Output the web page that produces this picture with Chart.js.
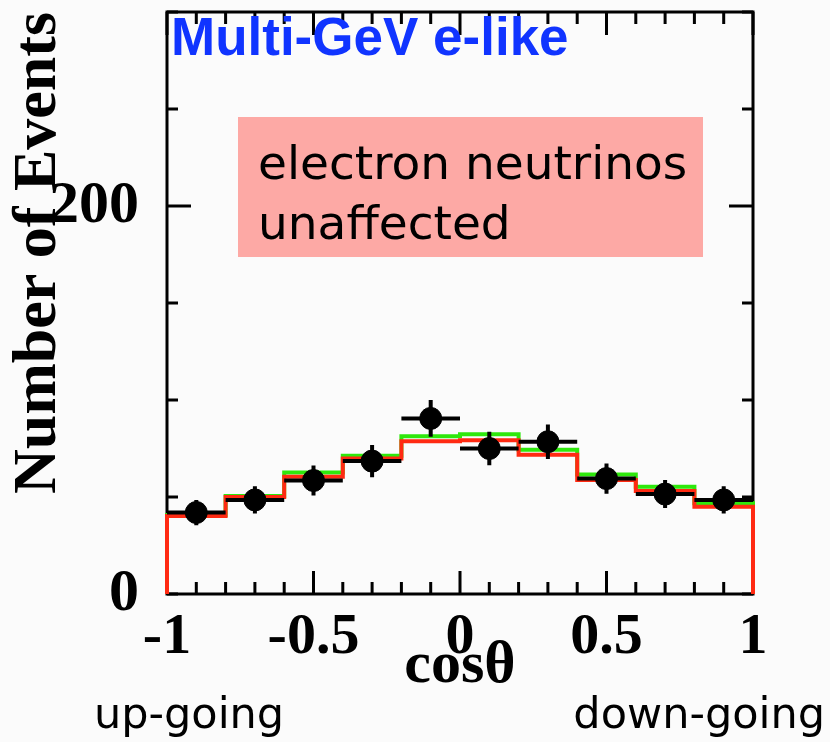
<!DOCTYPE html>
<html>
<head>
<meta charset="utf-8">
<script src="https://cdn.jsdelivr.net/npm/chart.js@4"></script>
<style>
  html, body { margin: 0; padding: 0; background: #fbfbfb; }
  #wrap { width: 830px; height: 742px; }
</style>
</head>
<body>
<div id="wrap"><canvas id="myChart" width="830" height="742"></canvas></div>
<script>
// bins in cos(theta)
const binEdges = [-1, -0.8, -0.6, -0.4, -0.2, 0, 0.2, 0.4, 0.6, 0.8, 1];
const binCenters = [-0.9, -0.7, -0.5, -0.3, -0.1, 0.1, 0.3, 0.5, 0.7, 0.9];

// data points and their errors
const dataEvents = [42, 48.5, 58.5, 68.5, 90.5, 75, 78.5, 59.5, 51.5, 48.5];
const dataErr = [6.5, 7, 7.7, 8.3, 9.5, 8.6, 8.9, 7.8, 7.2, 7];

// MC expectations
const mcNoOsc = [40.7, 50.5, 62.6, 71.2, 81.3, 82.4, 74.4, 61.6, 55.3, 46.8];
const mcOsc = [40.2, 50.0, 60.4, 69.9, 78.8, 79.2, 71.8, 58.7, 53.1, 45.0];

const yLabeled = [0, 200];

function stepPoints(vals) {
  const pts = [{ x: binEdges[0], y: 0 }];
  vals.forEach((v, i) => pts.push({ x: binEdges[i], y: v }));
  pts.push({ x: binEdges[binEdges.length - 1], y: vals[vals.length - 1] });
  pts.push({ x: binEdges[binEdges.length - 1], y: 0 });
  return pts;
}

const serif = "'Liberation Serif', 'Times New Roman', serif";
const comic = "'DejaVu Sans', sans-serif";

// frame + inward ticks, drawn under the histograms
const framePlugin = {
  id: "frame",
  beforeDatasetsDraw(chart) {
    const { ctx, chartArea: a, scales } = chart;
    const xs = scales.x, ys = scales.y;
    ctx.save();
    ctx.strokeStyle = "#000";
    ctx.lineWidth = 3;
    ctx.strokeRect(a.left, a.top, a.right - a.left, a.bottom - a.top);
    for (let i = 0; i <= 20; i++) {
      const v = -1 + i * 0.1;
      const px = xs.getPixelForValue(v);
      const len = i % 5 === 0 ? 23 : 12;
      ctx.beginPath();
      ctx.moveTo(px, a.bottom); ctx.lineTo(px, a.bottom - len);
      ctx.moveTo(px, a.top); ctx.lineTo(px, a.top + len);
      ctx.stroke();
    }
    for (let v = 0; v <= 300; v += 50) {
      const py = ys.getPixelForValue(v);
      const len = v === 200 ? 24 : 11;
      ctx.beginPath();
      ctx.moveTo(a.left, py); ctx.lineTo(a.left + len, py);
      ctx.moveTo(a.right, py); ctx.lineTo(a.right - len, py);
      ctx.stroke();
    }
    ctx.restore();
  },
  afterDatasetsDraw(chart) {
    // error bars of the data points
    const { ctx, scales } = chart;
    const xs = scales.x, ys = scales.y;
    ctx.save();
    ctx.strokeStyle = "#000";
    ctx.lineWidth = 4;
    binCenters.forEach((c, i) => {
      const px = xs.getPixelForValue(c);
      const py = ys.getPixelForValue(dataEvents[i]);
      ctx.beginPath();
      ctx.moveTo(xs.getPixelForValue(binEdges[i]), py);
      ctx.lineTo(xs.getPixelForValue(binEdges[i + 1]), py);
      ctx.moveTo(px, ys.getPixelForValue(dataEvents[i] - dataErr[i]));
      ctx.lineTo(px, ys.getPixelForValue(dataEvents[i] + dataErr[i]));
      ctx.stroke();
    });
    ctx.restore();
  },
  afterDraw(chart) {
    const { ctx } = chart;
    ctx.save();
    // y axis title
    ctx.save();
    ctx.translate(55, 253);
    ctx.rotate(-Math.PI / 2);
    ctx.fillStyle = "#000";
    ctx.font = "bold 62px " + serif;
    ctx.textAlign = "center";
    ctx.textBaseline = "alphabetic";
    ctx.fillText("Number of Events", 0, 0);
    ctx.restore();
    // title inside plot
    ctx.fillStyle = "#1034ff";
    ctx.font = "bold 53px 'Liberation Sans', Arial, sans-serif";
    ctx.textBaseline = "alphabetic";
    ctx.textAlign = "left";
    ctx.fillText("Multi-GeV e-like", 171, 55);
    // pink note
    ctx.fillStyle = "#fda9a5";
    ctx.fillRect(238, 117, 465, 140);
    ctx.fillStyle = "#000";
    ctx.font = "47px " + comic;
    ctx.fillText("electron neutrinos", 258, 179);
    ctx.fillText("unaffected", 258, 239);
    // direction labels
    ctx.font = "43px " + comic;
    ctx.fillText("up-going", 94, 728);
    ctx.textAlign = "right";
    ctx.fillText("down-going", 825, 728);
    ctx.restore();
  },
};

const ctx = document.getElementById("myChart").getContext("2d");
const myChart = new Chart(ctx, {
  data: {
    datasets: [
      {
        type: "line",
        label: "no oscillation",
        data: stepPoints(mcNoOsc),
        stepped: "before",
        borderColor: "#2ee80c",
        borderWidth: 4,
        pointRadius: 0,
        fill: false,
        clip: false,
        order: 3,
      },
      {
        type: "line",
        label: "oscillation",
        data: stepPoints(mcOsc),
        stepped: "before",
        borderColor: "#ff2a12",
        borderWidth: 4,
        pointRadius: 0,
        fill: false,
        clip: false,
        order: 2,
      },
      {
        type: "scatter",
        label: "data",
        data: binCenters.map((c, i) => ({ x: c, y: dataEvents[i] })),
        backgroundColor: "#000",
        borderColor: "#000",
        pointRadius: 11,
        pointHoverRadius: 11,
        order: 1,
      },
    ],
  },
  options: {
    responsive: false,
    animation: false,
    events: [],
    layout: { padding: { top: 7, right: 77, bottom: 40, left: 0 } },
    plugins: { legend: { display: false }, tooltip: { enabled: false } },
    scales: {
      x: {
        type: "linear",
        min: -1,
        max: 1,
        afterFit: (scale) => {
          scale.height = 108;
          scale.paddingLeft = 0;
          scale.paddingRight = 0;
        },
        grid: { display: false },
        border: { display: false },
        ticks: {
          stepSize: 0.5,
          color: "#000",
          padding: 1,
          maxRotation: 0,
          font: { family: serif, size: 58, weight: "bold" },
          callback: (v) => String(Math.round(v * 10) / 10),
        },
        title: {
          display: true,
          text: "cosθ",
          color: "#000",
          padding: { top: -10, bottom: 0 },
          font: { family: serif, size: 60, weight: "bold" },
        },
      },
      y: {
        type: "linear",
        min: 0,
        max: 300,
        afterFit: (scale) => {
          scale.width = 167;
          scale.paddingTop = 0;
          scale.paddingBottom = 0;
        },
        grid: { display: false },
        border: { display: false },
        ticks: {
          stepSize: 50,
          color: "#000",
          padding: 20,
          font: { family: serif, size: 60, weight: "bold" },
          callback: (v) => (yLabeled.includes(v) ? String(v) : ""),
        },
      },
    },
  },
  plugins: [framePlugin],
});
</script>
</body>
</html>
